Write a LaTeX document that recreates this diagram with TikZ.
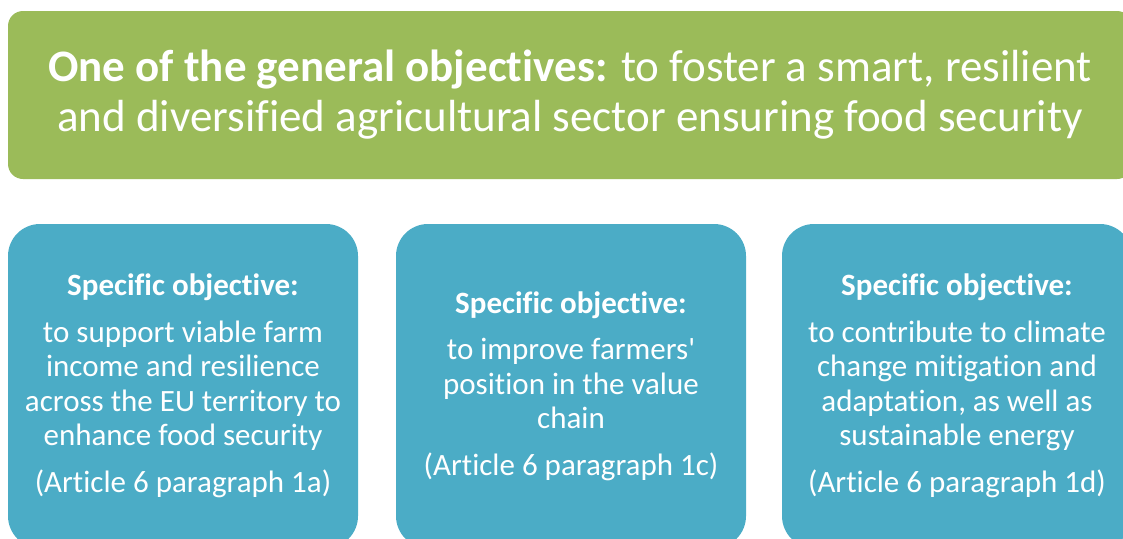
\documentclass[tikz,border=0pt]{standalone}
\usepackage{fontspec}
\setmainfont{Carlito}[Ligatures={NoCommon}]
\usetikzlibrary{positioning}
\definecolor{cgreen}{HTML}{9BBB59}
\definecolor{cblue}{HTML}{4BACC6}
\tikzset{
  every picture/.style={x=1pt, y=1pt},
  banner/.style={fill=cgreen, rounded corners=15pt, outer sep=0pt, minimum width=1124pt, minimum height=168pt, text=white, align=center, font=\fontsize{45}{50}\selectfont},
  objbox/.style={fill=cblue, rounded corners=32pt, outer sep=0pt, minimum width=350pt, minimum height=324pt, text=white, align=center, font=\fontsize{31}{34.5}\selectfont},
}
\begin{document}
\begin{tikzpicture}
  \useasboundingbox (0,0) rectangle (1123,-538);
  \clip (0,0) rectangle (1123,-538);
  \node[banner] (goal) at (570,-95) {\textbf{One of the general objectives:} to foster a smart, resilient\\and diversified agricultural sector ensuring food security};
  % specific objectives
  \node[objbox, below right=45pt and 0pt of goal.south west] (obj1) {\textbf{Specific objective:}\\[12pt]to support viable farm\\income and resilience\\across the EU territory to\\enhance food security\\[12pt](Article 6 paragraph 1a)};
  \node[objbox, right=38pt of obj1] (obj2) {\textbf{Specific objective:}\\[12pt]to improve farmers\textquotesingle\\position in the value\\chain\\[12pt](Article 6 paragraph 1c)};
  \node[objbox, right=36pt of obj2] (obj3) {\textbf{Specific objective:}\\[12pt]to contribute to climate\\change mitigation and\\adaptation, as well as\\sustainable energy\\[12pt](Article 6 paragraph 1d)};
\end{tikzpicture}
\end{document}
